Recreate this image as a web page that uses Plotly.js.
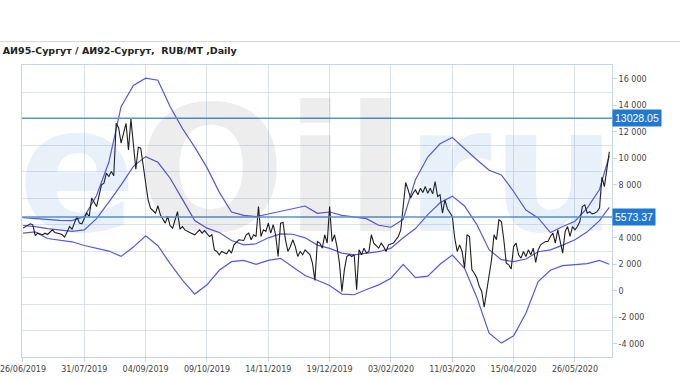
<!DOCTYPE html>
<html>
<head>
<meta charset="utf-8">
<script src="https://cdn.plot.ly/plotly-3.0.1.min.js"></script>
<style>
  html, body { margin: 0; padding: 0; background: #fff; }
  #chart { width: 680px; height: 380px; }
</style>
</head>
<body>
<div id="chart"></div>
<script>
// ---------------- data ----------------
const titleText = 'АИ95-Сургут / АИ92-Сургут,\u00a0 RUB/MT ,Daily';

// trading-day index of the x tick labels
const tickIdx = [0, 25, 50, 75, 100, 125, 150, 175, 200, 225];
const tickLabels = ['26/06/2019', '31/07/2019', '04/09/2019', '09/10/2019', '14/11/2019',
                    '19/12/2019', '03/02/2020', '11/03/2020', '15/04/2020', '26/05/2020'];

// 6 000 is hidden behind the 5573.37 level box in the reference
const yTickVals = [-4000, -2000, 0, 2000, 4000, 6000, 8000, 10000, 12000, 14000, 16000];
const yTickText = ['-4 000', '-2 000', '0', '2 000', '4 000', '', '8 000', '10 000', '12 000', '14 000', '16 000'];
// horizontal grid lines (odd thousands)
const yGridVals = [-5000, -3000, -1000, 1000, 3000, 5000, 7000, 9000, 11000, 13000, 15000, 17000];

// price spread (black line)
const priceIdx = [0,2,3,4,5,6,8,9,10,12,13,15,16,17,19,20,22,23,24,26,27,28,30,32,33,34,35,36,37,38,39,40,42,43,44,46,47,48,50,51,52,54,55,56,58,59,60,61,63,64,65,66,68,70,72,73,74,76,77,78,79,
  80,81,83,84,85,86,88,90,91,92,93,94,95,96,97,98,99,100,101,102,103,104,105,106,107,108,109,110,111,112,113,114,115,116,117,118,119,
  120,121,122,123,124,125,126,127,128,129,130,131,132,133,134,135,136,137,138,139,140,141,142,143,145,146,147,148,149,151,152,153,154,155,156,157,158,159,
  160,161,162,163,164,165,166,167,168,169,170,171,172,173,174,175,176,177,178,179,180,181,182,183,184,185,186,187,188,189,190,191,192,193,194,195,196,197,198,199,
  200,201,202,203,204,205,206,207,208,209,210,211,212,213,214,215,216,217,218,219,220,221,222,223,224,225,226,227,228,229,230,231,232,233,234,235,236,237,238,239];
const priceVal = [4730,4980,5060,4980,4170,4350,4230,4350,4250,4600,4400,4300,4230,4050,4850,4650,5610,5110,5060,5860,5610,7000,6360,8000,8130,8880,8630,9010,8680,12650,12300,11150,12650,10640,12960,9180,10840,10770,8130,6870,6240,5860,6420,5740,5110,5610,4910,4730,5980,4650,4850,4600,4400,4230,4600,4350,4550,4100,4230,3090,2970,
  2720,2970,2790,3090,2850,3470,3850,3800,4230,4350,3850,4230,4100,6360,4100,4600,4480,5110,4350,5000,4200,2590,5110,5160,3850,2970,3340,3850,3340,2590,2970,2720,3090,2900,2720,2090,780,
  3720,3600,3220,4230,3600,6360,3720,4230,3340,2090,-50,1580,2590,2720,2590,2720,75,3090,2720,3220,2850,2970,4230,3600,3220,3600,3340,2970,3470,3600,3850,4100,4600,6360,8180,7620,7000,7370,
  7620,7250,7750,7420,7870,7370,7750,7320,8250,7120,7250,5860,6870,6200,5860,5610,3980,2970,3470,2970,1710,4230,4100,1580,1330,960,330,-50,-1230,75,1210,2340,4230,3850,5360,5230,3850,2090,1960,1650,
  3340,3600,2720,2470,2970,2590,3090,2720,3220,2140,3090,3470,3600,3720,3720,4100,4350,3600,4600,3600,2850,4480,4850,4100,4850,4600,4850,5230,6360,6490,5860,5980,5810,5860,5980,6240,8580,7870,9380,10500];

// envelope bands
const bandIdx = [0,5,10,15,20,25,30,35,40,45,50,55,60,65,70,75,80,85,90,95,100,105,110,115,120,125,130,135,140,145,150,155,160,165,170,175,180,185,190,195,200,205,210,215,220,225,230,235,239];
const upperBand = [5530,5450,5360,5320,5300,5600,7200,9700,13900,15500,16050,15900,13900,12250,10850,9300,7450,5950,5700,5600,5800,6000,6250,6400,5850,5950,5700,5550,5450,4950,4800,5400,8400,10100,11100,11570,10700,9900,9100,8750,7500,6100,5500,4400,4850,5250,6250,7650,10200];
const middleBand = [4930,4850,4700,4600,4480,4600,5450,6700,8000,9400,10130,9700,8500,6900,5300,4730,4400,3800,3470,3550,4000,4300,4270,4000,3450,3200,2850,2720,2840,2950,3220,4000,4700,5750,6650,7150,6400,5000,3100,2350,2200,2400,2950,3090,3450,3850,4450,5300,6300];
const lowerBand = [4350,4450,3950,3800,3700,3420,3230,3000,2600,3300,4150,3400,2050,800,-250,450,1550,2200,2300,2000,2300,2450,1800,1150,800,400,-250,-300,100,450,950,2000,1000,1100,2000,2700,1700,-500,-3200,-3950,-3400,-1700,700,1550,1900,2000,2050,2300,2000];

// horizontal reference levels
const levels = [13028.05, 5573.37];
const levelLabels = ['13028.05', '5573.37'];

// ---------------- styles ----------------
const bandColor = '#5757e0';
const levelColor = '#5a93cf';
const gridColor = '#dae4ef';
const axisColor = '#c6d6e7';
const tickFont = {family: 'DejaVu Sans', size: 8, color: '#444'};
const yRange = [-5000, 17050];

const traces = [
  {x: bandIdx, y: upperBand, mode: 'lines', line: {color: bandColor, width: 1.2}, hoverinfo: 'skip'},
  {x: bandIdx, y: middleBand, mode: 'lines', line: {color: bandColor, width: 1.2}, hoverinfo: 'skip'},
  {x: bandIdx, y: lowerBand, mode: 'lines', line: {color: bandColor, width: 1.2}, hoverinfo: 'skip'},
  {x: priceIdx, y: priceVal, mode: 'lines', line: {color: '#1e1e1e', width: 1.1}, hoverinfo: 'skip'}
];

const shapes = levels.map(v => ({
  type: 'line', xref: 'paper', x0: 0, x1: 1, yref: 'y', y0: v, y1: v,
  line: {color: levelColor, width: 1.4}
}));
// thin separator above the title
shapes.push({type: 'line', xref: 'paper', x0: -0.04, x1: 1.12, yref: 'paper', y0: 1.08, y1: 1.08,
             line: {color: '#d4d4d4', width: 1}});

const annotations = levels.map((v, i) => ({
  xref: 'paper', x: 1, xanchor: 'left', yref: 'y', y: v, yanchor: 'middle',
  text: levelLabels[i], showarrow: false, bgcolor: '#1f78d1', borderpad: 2,
  font: {family: 'Liberation Sans', size: 10.5, color: '#fff'}
}));
// faint site watermark
annotations.unshift({
  xref: 'paper', yref: 'paper', x: 0.5, y: 0.64, xanchor: 'center', yanchor: 'middle', showarrow: false,
  text: '<span style="color:rgba(30,120,200,0.10)">e</span><span style="color:rgba(0,0,0,0.07)">Oil</span><span style="color:rgba(30,120,200,0.10)">ru</span>',
  font: {family: 'DejaVu Sans', size: 175, weight: 'bold'}
});

const layout = {
  width: 680, height: 380,
  margin: {l: 22, r: 68, t: 65, b: 23, pad: 0},
  paper_bgcolor: '#fff', plot_bgcolor: '#fff',
  showlegend: false,
  hovermode: false,
  title: {
    text: '<b>' + titleText + '</b>', xref: 'container', x: 0.004, xanchor: 'left',
    yref: 'container', y: 0.866, yanchor: 'middle',
    font: {family: 'DejaVu Sans', size: 9.5, color: '#222'}
  },
  xaxis: {
    range: [-0.4, 240.1], tickmode: 'array', tickvals: tickIdx, ticktext: tickLabels,
    showgrid: true, gridcolor: gridColor, gridwidth: 1, zeroline: false,
    showline: true, linecolor: axisColor, mirror: true, ticklabeloverflow: 'allow',
    ticks: 'outside', ticklen: 4, tickcolor: axisColor, tickfont: tickFont, fixedrange: true
  },
  yaxis: {
    side: 'right', range: yRange, tickmode: 'array', tickvals: yTickVals, ticktext: yTickText,
    showgrid: false, zeroline: false, showline: true, linecolor: axisColor, mirror: true,
    ticks: 'outside', ticklen: 4, tickcolor: axisColor, tickfont: tickFont, fixedrange: true,
    minor: {tickmode: 'array', tickvals: yGridVals, showgrid: true, gridcolor: gridColor, gridwidth: 1, ticks: ''}
  },
  shapes: shapes,
  annotations: annotations
};

Plotly.newPlot('chart', traces, layout, {displayModeBar: false, staticPlot: true});
</script>
</body>
</html>
